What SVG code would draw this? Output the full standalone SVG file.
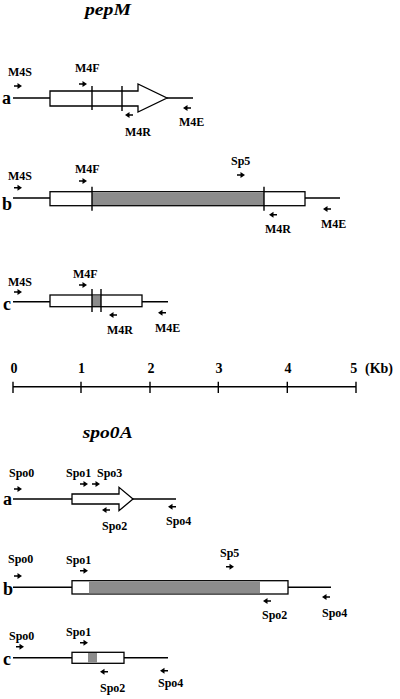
<svg xmlns="http://www.w3.org/2000/svg" width="400" height="699" viewBox="0 0 400 699">
<style>
.t{font-family:"Liberation Serif","Times New Roman",serif;font-weight:bold;font-size:12px;fill:#000}
.ttl{font-family:"Liberation Serif","Times New Roman",serif;font-weight:bold;font-style:italic;font-size:17px;fill:#000}
.lab{font-family:"Liberation Serif","Times New Roman",serif;font-weight:bold;font-size:18px;fill:#000}
.num{font-family:"Liberation Serif","Times New Roman",serif;font-weight:bold;font-size:14px;fill:#000;text-anchor:middle}
.ln{stroke:#000;stroke-width:1.4;fill:none}
.box{stroke:#000;stroke-width:1.3;fill:#fff}
.sh{fill:#8c8c8c}
</style>
<defs>
<path id="ra" d="M0,-0.8 H3.5 V-3 L8,0 L3.5,3 V0.8 H0 Z" fill="#000"/>
<path id="la" d="M8,-0.8 H4.5 V-3 L0,0 L4.5,3 V0.8 H8 Z" fill="#000"/>
</defs>

<text class="ttl" x="85" y="14.5" textLength="46" lengthAdjust="spacingAndGlyphs">pepM</text>

<g id="pepM-a">
<text class="lab" x="2" y="104">a</text>
<path class="ln" d="M13,98 H50 M167,98 H193"/>
<polygon class="box" points="50,91 138,91 138,84 167,98 138,112 138,106 50,106"/>
<path class="ln" d="M92,86 V110 M122,86 V111"/>
<text class="t" x="8" y="76">M4S</text><use href="#ra" x="14" y="86"/>
<text class="t" x="75" y="72">M4F</text><use href="#ra" x="79" y="84"/>
<use href="#la" x="125" y="115"/><text class="t" x="125" y="136">M4R</text>
<use href="#la" x="183" y="108"/><text class="t" x="179" y="126">M4E</text>
</g>

<g id="pepM-b">
<text class="lab" x="2" y="210">b</text>
<path class="ln" d="M13,198 H50 M305,198 H340"/>
<rect class="box" x="50" y="191.7" width="255" height="14"/>
<rect class="sh" x="92" y="192.4" width="172" height="12.6"/>
<path class="ln" d="M92,186.7 V210.7 M264,186.7 V210.7"/>
<text class="t" x="8" y="180">M4S</text><use href="#ra" x="14" y="187.7"/>
<text class="t" x="75" y="172.7">M4F</text><use href="#ra" x="79" y="181"/>
<text class="t" x="231" y="165">Sp5</text><use href="#ra" x="237" y="175"/>
<use href="#la" x="269" y="214.7"/><text class="t" x="265" y="233">M4R</text>
<use href="#la" x="323" y="209"/><text class="t" x="321" y="228">M4E</text>
</g>

<g id="pepM-c">
<text class="lab" x="3" y="310">c</text>
<path class="ln" d="M13,301.7 H50 M142,301.7 H168"/>
<rect class="box" x="50" y="295" width="92" height="11.7"/>
<rect class="sh" x="92" y="295.7" width="9" height="10.3"/>
<path class="ln" d="M92,289 V312 M101,289 V312"/>
<text class="t" x="8" y="285.7">M4S</text><use href="#ra" x="14" y="292"/>
<text class="t" x="73" y="278">M4F</text><use href="#ra" x="79" y="285"/>
<use href="#la" x="109" y="315"/><text class="t" x="107" y="334">M4R</text>
<use href="#la" x="158" y="312.7"/><text class="t" x="155" y="331.7">M4E</text>
</g>

<g id="scale">
<path class="ln" d="M13,386.7 H356 M13,381.7 V393 M81,381.7 V393 M150,381.7 V393 M218.3,381.7 V393 M287.3,381.7 V393 M356,381.7 V393"/>
<text class="num" x="14" y="372.7">0</text>
<text class="num" x="81.5" y="372.7">1</text>
<text class="num" x="151" y="372.7">2</text>
<text class="num" x="219" y="372.7">3</text>
<text class="num" x="288" y="372.7">4</text>
<text class="num" x="353.7" y="372.7">5</text>
<text class="num" x="379" y="372.7">(Kb)</text>
</g>

<text class="ttl" x="82.7" y="438" textLength="50" lengthAdjust="spacingAndGlyphs">spo0A</text>

<g id="spo0A-a">
<text class="lab" x="3" y="505">a</text>
<path class="ln" d="M13,499 H72 M133,499 H176"/>
<polygon class="box" points="72,494 119,494 119,487.3 133,499 119,510.7 119,504 72,504"/>
<text class="t" x="9" y="477">Spo0</text><use href="#ra" x="14" y="489"/>
<text class="t" x="66" y="477">Spo1</text><use href="#ra" x="80" y="484"/>
<text class="t" x="97" y="477">Spo3</text><use href="#ra" x="92" y="484"/>
<use href="#la" x="102" y="510"/><text class="t" x="102" y="530">Spo2</text>
<use href="#la" x="168" y="506.7"/><text class="t" x="166" y="525">Spo4</text>
</g>

<g id="spo0A-b">
<text class="lab" x="3" y="595">b</text>
<path class="ln" d="M13,587.3 H72 M288,587.3 H331"/>
<rect class="box" x="72" y="580.7" width="216" height="13.3"/>
<rect class="sh" x="89" y="581.4" width="171" height="11.9"/>
<text class="t" x="8" y="563.3">Spo0</text><use href="#ra" x="14" y="576"/>
<text class="t" x="66" y="564">Spo1</text><use href="#ra" x="80" y="570.7"/>
<text class="t" x="220" y="556.7">Sp5</text><use href="#ra" x="226" y="566.7"/>
<use href="#la" x="263" y="601"/><text class="t" x="262" y="619">Spo2</text>
<use href="#la" x="322" y="597"/><text class="t" x="322" y="616.7">Spo4</text>
</g>

<g id="spo0A-c">
<text class="lab" x="3" y="665">c</text>
<path class="ln" d="M13,657.7 H72 M124,657.7 H168"/>
<rect class="box" x="72" y="652.3" width="52" height="11"/>
<rect class="sh" x="88" y="653" width="9" height="9.6"/>
<text class="t" x="9" y="640">Spo0</text><use href="#ra" x="16" y="646.7"/>
<text class="t" x="66" y="636">Spo1</text><use href="#ra" x="80" y="642.7"/>
<use href="#la" x="100" y="671.7"/><text class="t" x="100" y="691.7">Spo2</text>
<use href="#la" x="160" y="670.7"/><text class="t" x="158" y="686.7">Spo4</text>
</g>
</svg>
